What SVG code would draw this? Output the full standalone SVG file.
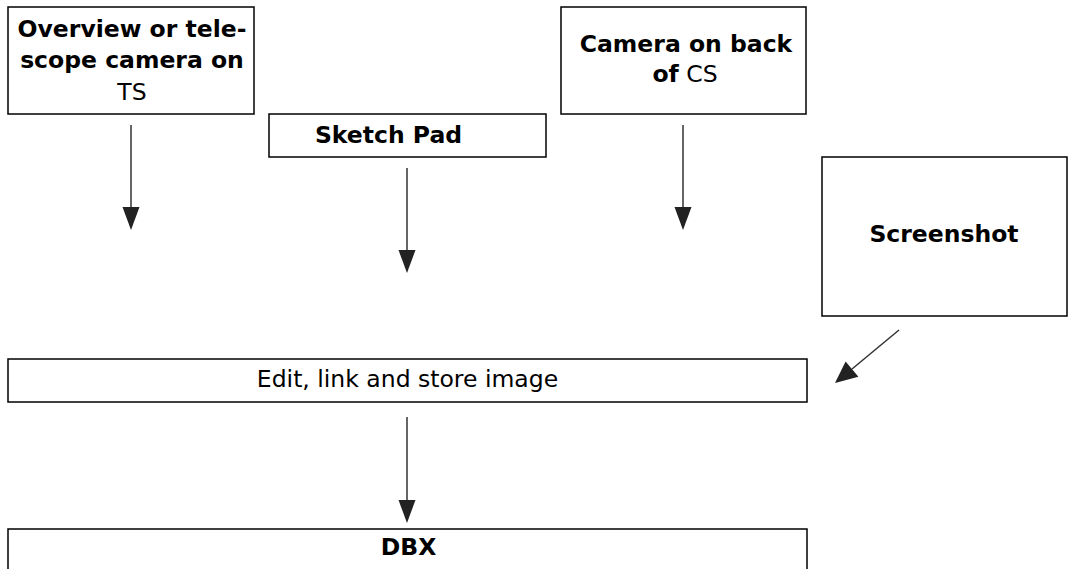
<svg xmlns="http://www.w3.org/2000/svg" width="1069" height="569" viewBox="0 0 1069 569">
<defs>
<style>
.box{fill:#fff;stroke:#000;stroke-width:1.5}
.t{font-family:"DejaVu Sans","Open Sans",sans-serif;font-size:23.5px;fill:#000;text-anchor:middle}
.b{font-weight:bold}
.c{stroke:#333;stroke-width:1.5;fill:none}
.h{fill:#222}
</style>
</defs>
<rect width="1069" height="569" fill="#fff"/>
<g id="n-overview">
<rect class="box" x="8" y="7" width="246" height="107"/>
<text class="t b" x="132" y="37">Overview or tele-</text>
<text class="t b" x="132" y="68">scope camera on</text>
<text class="t" x="132" y="100">TS</text>
</g>
<g id="n-sketch">
<rect class="box" x="269" y="114" width="277" height="43"/>
<text class="t b" x="388.5" y="143">Sketch Pad</text>
</g>
<g id="n-camera">
<rect class="box" x="561" y="7" width="245" height="107"/>
<text class="t b" x="686" y="52">Camera on back</text>
<text class="t" x="685" y="82"><tspan class="b">of</tspan> CS</text>
</g>
<g id="n-screenshot">
<rect class="box" x="822" y="157" width="245" height="159"/>
<text class="t b" x="944" y="242">Screenshot</text>
</g>
<g id="n-edit">
<rect class="box" x="8" y="359" width="799" height="43"/>
<text class="t" x="407.5" y="387">Edit, link and store image</text>
</g>
<g id="n-dbx">
<rect class="box" x="8" y="529" width="799" height="50"/>
<text class="t b" x="408.5" y="555">DBX</text>
</g>
<g id="connectors">
<line class="c" x1="131" y1="125" x2="131" y2="210"/>
<polygon class="h" points="122.5,207 139.5,207 131,230"/>
<line class="c" x1="407" y1="168" x2="407" y2="252"/>
<polygon class="h" points="398.5,250 415.5,250 407,273"/>
<line class="c" x1="683" y1="125" x2="683" y2="210"/>
<polygon class="h" points="674.5,207 691.5,207 683,230"/>
<line class="c" x1="407" y1="417" x2="407" y2="502"/>
<polygon class="h" points="398.5,500 415.5,500 407,523"/>
<line class="c" x1="899" y1="330" x2="852" y2="369"/>
<polygon class="h" points="835,383 845.6,361.4 858.4,376.8"/>
</g>
</svg>
